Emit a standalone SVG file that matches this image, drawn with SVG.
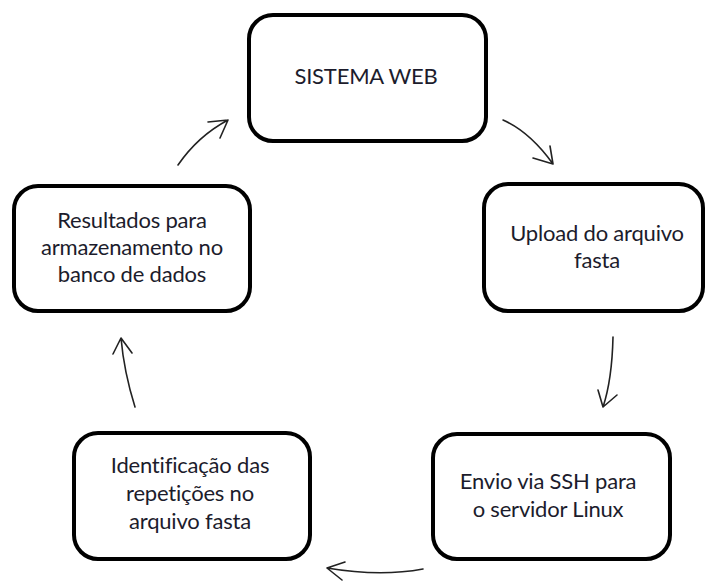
<svg xmlns="http://www.w3.org/2000/svg" width="710" height="581" viewBox="0 0 710 581">
<style>
.box{fill:#fff;stroke:#000;stroke-width:4}
.t{font-family:Lato,"Open Sans","Liberation Sans",sans-serif;font-size:22px;fill:#1c1c2c;text-anchor:middle;letter-spacing:-0.2px}
.c{fill:none;stroke:#222;stroke-width:1.6;stroke-linecap:round;stroke-linejoin:round}
</style>
<rect width="710" height="581" fill="#fff"/>
<g id="sistema-web">
<rect class="box" x="249" y="15" width="237" height="126" rx="24"/>
<text class="t" x="366" y="84">SISTEMA WEB</text>
</g>
<g id="upload">
<rect class="box" x="484" y="184" width="219" height="127" rx="24"/>
<text class="t" x="597" y="241">Upload do arquivo</text>
<text class="t" x="597" y="268">fasta</text>
</g>
<g id="envio">
<rect class="box" x="433" y="434" width="237" height="125" rx="24"/>
<text class="t" x="548" y="489">Envio via SSH para</text>
<text class="t" x="548" y="517">o servidor Linux</text>
</g>
<g id="identificacao">
<rect class="box" x="74" y="433" width="236" height="126" rx="24"/>
<text class="t" x="190" y="473">Identificação das</text>
<text class="t" x="190" y="501">repetições no</text>
<text class="t" x="190" y="529">arquivo fasta</text>
</g>
<g id="resultados">
<rect class="box" x="14" y="186" width="236" height="125" rx="24"/>
<text class="t" x="132" y="228">Resultados para</text>
<text class="t" x="132" y="255">armazenamento no</text>
<text class="t" x="132" y="282">banco de dados</text>
</g>
<g id="connectors">
<path class="c" d="M503 120 Q530 132 553 164 M533 158 L553 164 L550 146"/>
<path class="c" d="M613 337 Q612 380 603 407 M598 390 L603 407 L617 395"/>
<path class="c" d="M423 569 Q380 577 327 568 M345 562 L327 568 L342 580"/>
<path class="c" d="M135 407 Q124 372 121 338 M113 354 L121 338 L132 353"/>
<path class="c" d="M178 165 Q198 136 228 120 M208 122 L228 120 L220 138"/>
</g>
</svg>
